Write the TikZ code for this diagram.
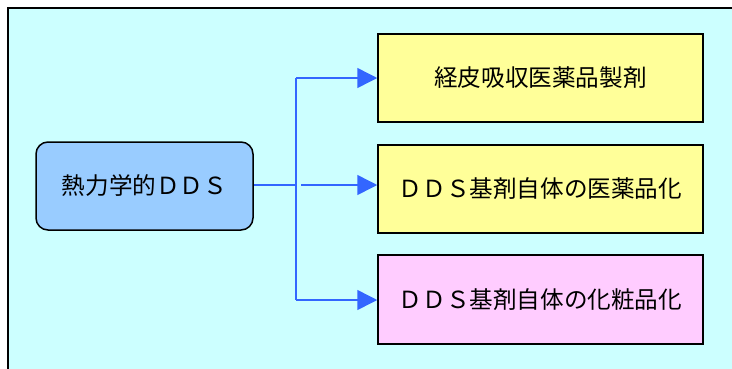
\documentclass[tikz,border=0pt]{standalone}
\usepackage{fontspec}
\newfontfamily\cjk{Noto Sans CJK JP}
\usetikzlibrary{arrows.meta}
\definecolor{bgc}{HTML}{CCFFFF}
\definecolor{yel}{HTML}{FFFF99}
\definecolor{pnk}{HTML}{FFCCFF}
\definecolor{blu}{HTML}{99CCFF}
\definecolor{arr}{HTML}{3366FF}
\tikzset{
  box/.style={draw=black, line width=1.5pt, inner sep=0pt, font=\cjk\fontsize{23.6}{28}\selectfont},
  conn/.style={draw=arr, line width=1.5pt},
  arrconn/.style={conn, -{Triangle[length=20pt,width=20pt]}},
}
\begin{document}
\begin{tikzpicture}[x=1pt,y=-1pt]
\useasboundingbox (0,0) rectangle (732,368);
\begin{scope}
\clip (0,0) rectangle (732,368);
\draw[fill=bgc, draw=black, line width=1.5pt] (8,8) rectangle (745,380);
\end{scope}
\node[box, fill=blu, rounded corners=12pt, minimum width=217pt, minimum height=88pt] (src) at (144.5,186) {熱力学的ＤＤＳ};
\node[box, fill=yel, minimum width=325pt, minimum height=88pt] (a) at (540.5,78) {経皮吸収医薬品製剤};
\node[box, fill=yel, minimum width=325pt, minimum height=88pt] (b) at (540.5,189) {ＤＤＳ基剤自体の医薬品化};
\node[box, fill=pnk, minimum width=325pt, minimum height=89pt] (c) at (540.5,299.5) {ＤＤＳ基剤自体の化粧品化};
\coordinate (j) at (296,185);
\coordinate (jt) at (296,78);
\coordinate (jb) at (296,300);
\coordinate (ms) at (301,185);
\draw[conn] (src.east |- j) -- (j);
\draw[conn] (jt) -- (jb);
\draw[arrconn] (jt) -- (a.west);
\draw[arrconn] (ms) -- (a.west |- ms);
\draw[arrconn] (jb) -- (c.west |- jb);
\end{tikzpicture}
\end{document}
